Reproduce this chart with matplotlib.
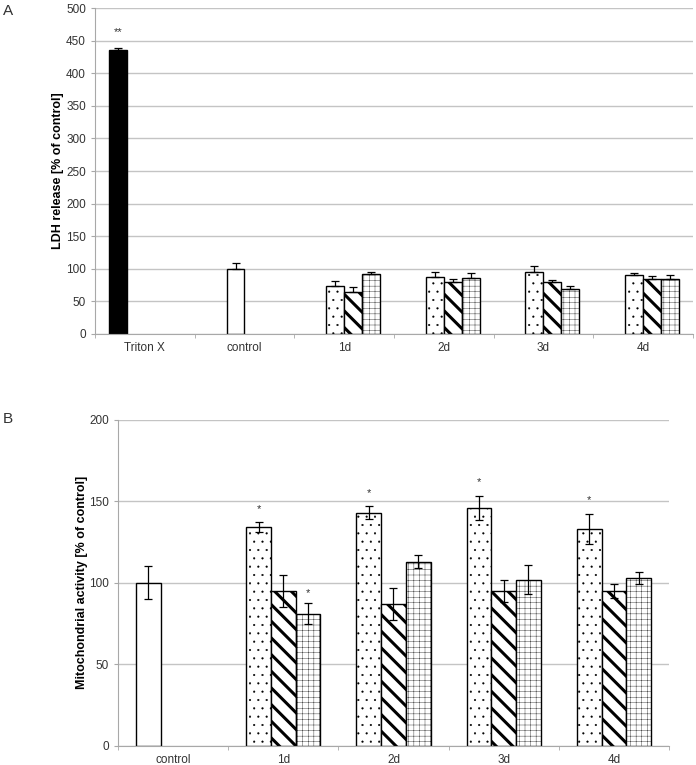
import matplotlib
matplotlib.use("Agg")
import matplotlib.pyplot as plt
import numpy as np
from matplotlib.ticker import FixedLocator, NullFormatter

plt.rcParams['font.family'] = ['Liberation Sans', 'DejaVu Sans']

# ---- Panel A: LDH release ----
a_categories = ['Triton X', 'control', '1d', '2d', '3d', '4d']
a_triton = [435]
a_triton_err = [4]
a_control = [100]
a_control_err = [9]
a_dots = [74, 88, 95, 90]
a_dots_err = [7.5, 7, 9, 4]
a_stripes = [65, 80, 80, 84]
a_stripes_err = [7, 4.5, 3.5, 5]
a_grid = [92, 86, 69, 84]
a_grid_err = [3, 7.5, 4.5, 6]
a_stars = {'Triton X': '**'}

# ---- Panel B: mitochondrial activity ----
b_categories = ['control', '1d', '2d', '3d', '4d']
b_control = [100]
b_control_err = [10]
b_dots = [134, 143, 146, 133]
b_dots_err = [3, 4, 7.5, 9.5]
b_stripes = [95, 87, 95, 95]
b_stripes_err = [10, 10, 7, 4.5]
b_grid = [81, 113, 102, 103]
b_grid_err = [6.5, 4, 9, 3.5]
b_dots_stars = ['*', '*', '*', '*']
b_grid_stars = ['*', '', '', '']

GRID_C = '#c4c4c4'
AXIS_C = '#a8a8a8'
TEXT_C = '#333333'


def style_axis(ax, ncat, labels, ymax, ystep):
    ax.set_xlim(-0.5, ncat - 0.5)
    ax.set_ylim(0, ymax)
    ax.set_yticks(np.arange(0, ymax + 1, ystep))
    ax.yaxis.grid(True, color=GRID_C, linewidth=1.0)
    ax.set_axisbelow(True)
    ax.spines['top'].set_visible(False)
    ax.spines['right'].set_visible(False)
    ax.spines['left'].set_color(AXIS_C)
    ax.spines['bottom'].set_color(AXIS_C)
    ax.set_xticks(range(ncat))
    ax.set_xticklabels(labels)
    ax.xaxis.set_minor_locator(FixedLocator(np.arange(-0.5, ncat, 1)))
    ax.xaxis.set_minor_formatter(NullFormatter())
    ax.tick_params(axis='x', which='major', length=0, pad=6, labelsize=8.5,
                   labelcolor=TEXT_C)
    ax.tick_params(axis='x', which='minor', length=3, color=AXIS_C)
    ax.tick_params(axis='y', length=3, color=AXIS_C, labelsize=8.5,
                   labelcolor=TEXT_C)


def draw_bars(ax, x, vals, errs, width, hatch, fc='white', lower=True,
              hatch_lw=1.0):
    with plt.rc_context({'hatch.linewidth': hatch_lw}):
        ax.bar(x, vals, width, color=fc, edgecolor='black', linewidth=1.0,
               hatch=hatch, zorder=2)
    if lower:
        yerr = errs
    else:
        yerr = [np.zeros(len(errs)), errs]
    ax.errorbar(x, vals, yerr=yerr, fmt='none', ecolor='black',
                elinewidth=0.9, capsize=3, capthick=0.9, zorder=3)


fig = plt.figure(figsize=(6.96, 7.65), dpi=100)

# Panel A
axA = fig.add_axes([0.1365, 0.5634, 0.859, 0.426])
wA = 0.18
xa = np.arange(len(a_categories))
draw_bars(axA, xa[:1] - 1.5 * wA, a_triton, a_triton_err, wA, None,
          fc='black', lower=False)
draw_bars(axA, xa[1:2] - 0.5 * wA, a_control, a_control_err, wA, None,
          lower=False)
draw_bars(axA, xa[2:] - 0.5 * wA, a_dots, a_dots_err, wA, '..', lower=False,
          hatch_lw=0.3)
draw_bars(axA, xa[2:] + 0.5 * wA, a_stripes, a_stripes_err, wA, '\\\\',
          lower=False, hatch_lw=2.2)
draw_bars(axA, xa[2:] + 1.5 * wA, a_grid, a_grid_err, wA, '+++', lower=False,
          hatch_lw=0.25)
for i, (v, e) in enumerate(zip(a_triton, a_triton_err)):
    axA.annotate(a_stars['Triton X'], (xa[i] - 1.5 * wA, v + e),
                 xytext=(0, 8), textcoords='offset points', ha='center',
                 va='bottom', fontsize=8, color=TEXT_C)
style_axis(axA, len(a_categories), a_categories, 500, 50)
axA.set_ylabel('LDH release [% of control]', fontsize=9, fontweight='bold')
axA.yaxis.set_label_coords(-0.052, 0.5)

# Panel B
axB = fig.add_axes([0.1695, 0.0252, 0.7917, 0.426])
wB = 0.224
xb = np.arange(len(b_categories))
draw_bars(axB, xb[:1] - wB, b_control, b_control_err, wB, None)
draw_bars(axB, xb[1:] - wB, b_dots, b_dots_err, wB, '..', hatch_lw=0.3)
draw_bars(axB, xb[1:], b_stripes, b_stripes_err, wB, '\\\\', hatch_lw=2.2)
draw_bars(axB, xb[1:] + wB, b_grid, b_grid_err, wB, '+++', hatch_lw=0.25)
for i, s in enumerate(b_dots_stars):
    if s:
        axB.annotate(s, (xb[i + 1] - wB, b_dots[i] + b_dots_err[i]),
                     xytext=(0, 6), textcoords='offset points', ha='center',
                     va='bottom', fontsize=8, color=TEXT_C)
for i, s in enumerate(b_grid_stars):
    if s:
        axB.annotate(s, (xb[i + 1] + wB, b_grid[i] + b_grid_err[i]),
                     xytext=(0, 4), textcoords='offset points', ha='center',
                     va='bottom', fontsize=8, color=TEXT_C)
style_axis(axB, len(b_categories), b_categories, 200, 50)
axB.set_ylabel('Mitochondrial activity [% of control]', fontsize=9,
               fontweight='bold')
axB.yaxis.set_label_coords(-0.054, 0.5)

fig.text(0.004, 0.995, 'A', fontsize=11, va='top', color=TEXT_C)
fig.text(0.004, 0.462, 'B', fontsize=11, va='top', color=TEXT_C)

fig.savefig('out.png', dpi=100)
